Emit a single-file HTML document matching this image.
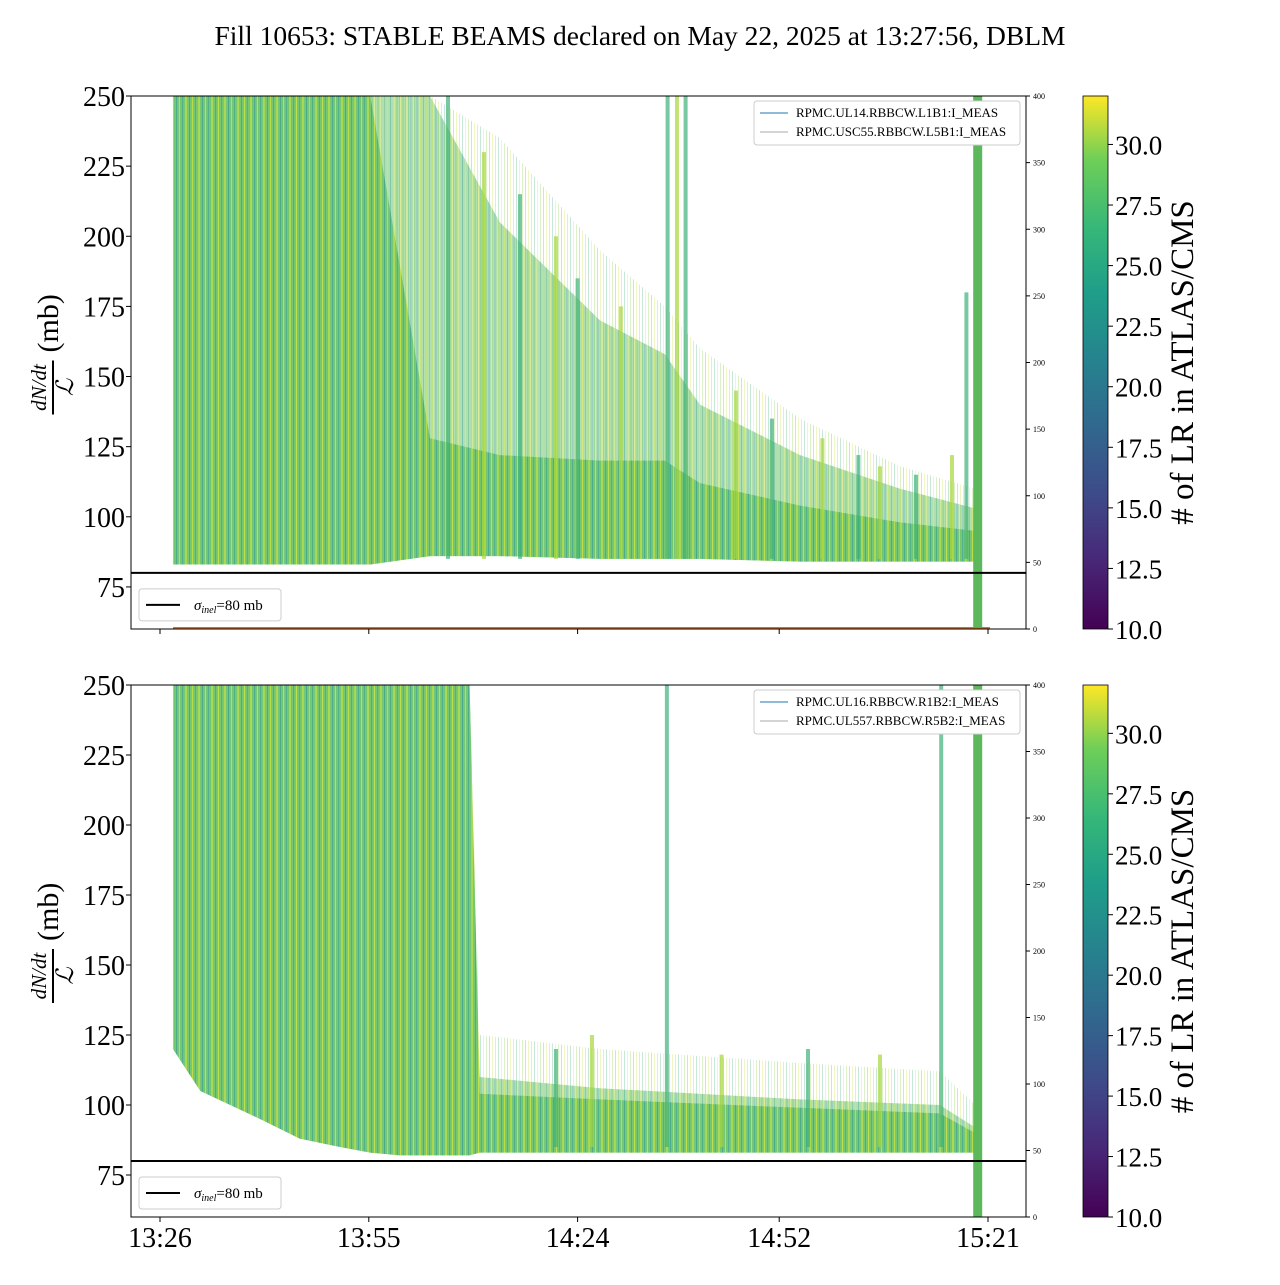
<!DOCTYPE html>
<html><head><meta charset="utf-8">
<style>
body{margin:0;background:#fff;}
svg text{font-family:"Liberation Serif",serif;}
</style></head>
<body>
<svg id="c" width="1280" height="1280" xmlns="http://www.w3.org/2000/svg">
<defs>
<linearGradient id="vir" x1="0" y1="1" x2="0" y2="0">
<stop offset="0" stop-color="#440154"/><stop offset="0.13" stop-color="#482878"/><stop offset="0.25" stop-color="#3e4a89"/>
<stop offset="0.38" stop-color="#31688e"/><stop offset="0.5" stop-color="#26828e"/><stop offset="0.63" stop-color="#1f9e89"/>
<stop offset="0.75" stop-color="#35b779"/><stop offset="0.88" stop-color="#6ece58"/><stop offset="1" stop-color="#fde725"/>
</linearGradient>
<pattern id="stripes" width="13" height="10" patternUnits="userSpaceOnUse">
<rect width="13" height="10" fill="#62c062"/>
<rect x="0" width="1" height="10" fill="#3aa57c"/>
<rect x="3" width="2" height="10" fill="#9fd43e"/>
<rect x="7" width="1" height="10" fill="#34a07e"/>
<rect x="10" width="1" height="10" fill="#b5da35"/>
</pattern>
<pattern id="stripes2" width="9" height="10" patternUnits="userSpaceOnUse">
<rect width="9" height="10" fill="#ffffff"/>
<rect x="0" width="1" height="10" fill="#8fd24a"/>
<rect x="3" width="1" height="10" fill="#45b27a"/>
<rect x="6" width="1" height="10" fill="#c8e040"/>
</pattern>
</defs>
<text x="640" y="45" font-size="27.5" text-anchor="middle">Fill 10653: STABLE BEAMS declared on May 22, 2025 at 13:27:56, DBLM</text>
<g id="top"></g><g id="bot"></g>
</svg>
<script>
const xTickLabels=["13:26","13:55","14:24","14:52","15:21"];
const xTickTimes=[0,29,58,86,115];
const yTicks=[75,100,125,150,175,200,225,250];
const rTicks=[0,50,100,150,200,250,300,350,400];
const cbTicks=[10,12.5,15,17.5,20,22.5,25,27.5,30];
const topTimes=[1.8,29.2,37.5,47.2,61.1,70.1,75,88.9,102.8,113.2];
const topUpper=[250,250,250,235,195,175,160,135,118,110];
const topMid=[250,250,250,205,170,158,140,122,110,103];
const topCore=[250,250,128,122,120,120,112,104,98,95];
const topLower=[83,83,86,86,85,85,85,84,84,84];
const topSpikeT=[40,45,50,55,58,64,70.5,71.8,73,80,85,92,97,100,105,110,112];
const topSpikeV=[250,230,215,200,185,175,250,250,250,145,135,128,122,118,115,122,180];
const botTimes=[1.8,5.6,13.9,19.4,25,29.2,33.3,43,44.4,61.1,88.9,108.3,113.2];
const botUpper=[250,250,250,250,250,250,250,250,125,120,115,112,100];
const botMid=[250,250,250,250,250,250,250,250,110,106,102,100,92];
const botCore=[250,250,250,250,250,250,250,250,104,102,99,97,90];
const botLower=[120,105,95,88,85,83,82,82,83,83,83,83,83];
const botSpikeT=[55,60,70.4,78,90,100,108.5];
const botSpikeV=[120,125,250,118,120,118,250];
const legends=[["RPMC.UL14.RBBCW.L1B1:I_MEAS","RPMC.USC55.RBBCW.L5B1:I_MEAS"],["RPMC.UL16.RBBCW.R1B2:I_MEAS","RPMC.UL557.RBBCW.R5B2:I_MEAS"]];
const NS="http://www.w3.org/2000/svg";
function mk(p,tag,a,txt){const e=document.createElementNS(NS,tag);for(const k in a)e.setAttribute(k,a[k]);if(txt!==undefined)e.textContent=txt;p.appendChild(e);return e;}
const X0=131,X1=1026;
const xs=t=>160+t*828/115;
function panel(g,y0,y1,times,up,mid,core,lo,spT,spV,leg,isTop,idx){
  const ys=v=>y1-(v-60)*(y1-y0)/190;
  const yr=v=>y1-v*(y1-y0)/400;
  const cl=document.createElementNS(NS,'clipPath');cl.id='cl'+idx;mk(cl,'rect',{x:X0,y:y0,width:X1-X0,height:y1-y0});g.appendChild(cl);
  const d=mk(g,'g',{'clip-path':'url(#cl'+idx+')'});
  
  
  const band=(hi,fill,op)=>{const pts=times.map((t,i)=>xs(t)+','+ys(hi[i])).concat(times.slice().reverse().map((t,j)=>{const i=times.length-1-j;return xs(t)+','+ys(lo[i]);}));
    return mk(d,'polygon',{points:pts.join(' '),fill:fill,'fill-opacity':op});};
  const a=band(up,'url(#stripes2)',0.3);
  
  
  const m=band(mid,'url(#stripes)',0.5);
  
  
  const c=band(core,'url(#stripes)',0.75);
  
  
  spT.forEach((t,i)=>{const s=mk(d,'rect',{x:xs(t)-2,y:ys(spV[i]),width:4,height:ys(85)-ys(spV[i]),fill:i%2?'#a6d63a':'#3fb07a','fill-opacity':0.7});
    
    });
  const bar=mk(d,'rect',{x:xs(113.5)-4,y:y0,width:9,height:y1-y0,fill:'#5cb85a'});
  
  
  if(isTop){const o=mk(d,'line',{x1:173,x2:990,y1:y1-1,y2:y1-1,stroke:'#e07020','stroke-width':2});
    
    }
  const h=mk(g,'line',{x1:X0,x2:X1,y1:ys(80),y2:ys(80),stroke:'#000','stroke-width':2});
  
  
  const fr=mk(g,'rect',{x:X0,y:y0,width:X1-X0,height:y1-y0,fill:'none',stroke:'#000','stroke-width':1});
  
  
  yTicks.forEach(v=>{mk(g,'line',{x1:X0-5,x2:X0,y1:ys(v),y2:ys(v),stroke:'#000'});
    const t=mk(g,'text',{x:X0-6,y:ys(v)+10,'font-size':28,'text-anchor':'end'},v);
    
    });
  rTicks.forEach(v=>{mk(g,'line',{x1:X1,x2:X1+4,y1:yr(v),y2:yr(v),stroke:'#000'});
    const t=mk(g,'text',{x:X1+7,y:yr(v)+3,'font-size':8},v);
    
    });
  xTickTimes.forEach((tt,i)=>{mk(g,'line',{x1:xs(tt),x2:xs(tt),y1:y1,y2:y1+5,stroke:'#000'});
    if(!isTop){const t=mk(g,'text',{x:xs(tt),y:y1+30,'font-size':28,'text-anchor':'middle'},xTickLabels[i]);
      
      }});
  const yl=mk(g,'g',{transform:`translate(54,${(y0+y1)/2}) rotate(-90)`});
  
  
  mk(yl,'text',{x:-25,y:-8,'font-size':21,'font-style':'italic','text-anchor':'middle'},'dN/dt');
  mk(yl,'line',{x1:-52,x2:2,y1:-1,y2:-1,stroke:'#000','stroke-width':2});
  mk(yl,'text',{x:-25,y:19,'font-size':24,'font-style':'italic','text-anchor':'middle'},'ℒ');
  mk(yl,'text',{x:10,y:4,'font-size':30},'(mb)');
  const lg=mk(g,'g',{});
  
  
  mk(lg,'rect',{x:139,y:ys(80)+16,width:142,height:32,rx:3,fill:'#fff',stroke:'#ccc'});
  mk(lg,'line',{x1:146,x2:180,y1:ys(80)+32,y2:ys(80)+32,stroke:'#000','stroke-width':2});
  const st=mk(lg,'text',{x:194,y:ys(80)+37,'font-size':15});
  mk(st,'tspan',{'font-style':'italic'},'σ');mk(st,'tspan',{'font-style':'italic','font-size':10,dy:3},'inel');mk(st,'tspan',{dy:-3},'=80 mb');
  const l2=mk(g,'g',{});
  
  
  mk(l2,'rect',{x:754,y:y0+5,width:266,height:44,rx:3,fill:'#fff',stroke:'#ccc'});
  mk(l2,'line',{x1:760,x2:788,y1:y0+17,y2:y0+17,stroke:'#1f77b4'});
  mk(l2,'text',{x:796,y:y0+21,'font-size':13},leg[0]);
  mk(l2,'line',{x1:760,x2:788,y1:y0+36,y2:y0+36,stroke:'#aaa'});
  mk(l2,'text',{x:796,y:y0+40,'font-size':13},leg[1]);
  const cb=mk(g,'rect',{x:1083,y:y0,width:25,height:y1-y0,fill:'url(#vir)',stroke:'#000','stroke-width':0.8});
  
  
  const cy=v=>y1-(v-10)*(y1-y0)/22;
  cbTicks.forEach(v=>{mk(g,'line',{x1:1108,x2:1113,y1:cy(v),y2:cy(v),stroke:'#000'});
    const t=mk(g,'text',{x:1115,y:cy(v)+10,'font-size':27},v.toFixed(1));
    
    });
  const ct=mk(g,'text',{transform:`translate(1193,${(y0+y1)/2}) rotate(-90)`,'font-size':33,'text-anchor':'middle'},'# of LR in ATLAS/CMS');
  
  
}
panel(document.getElementById('top'),96,629,topTimes,topUpper,topMid,topCore,topLower,topSpikeT,topSpikeV,legends[0],true,0);
panel(document.getElementById('bot'),685,1217,botTimes,botUpper,botMid,botCore,botLower,botSpikeT,botSpikeV,legends[1],false,1);
</script>
</body></html>
